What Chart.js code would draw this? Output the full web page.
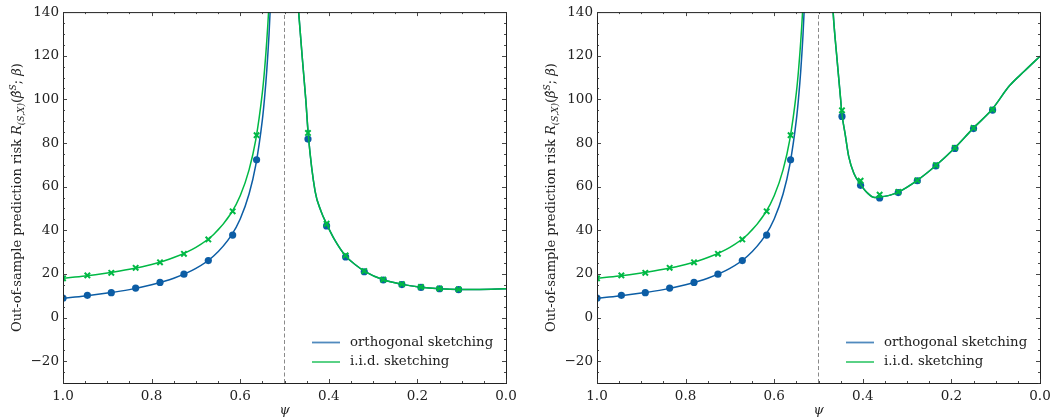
<!DOCTYPE html>
<html>
<head>
<meta charset="utf-8">
<title>Sketching prediction risk</title>
<style>
  body { margin: 0; background: #fff; }
  .panel { position: absolute; top: 0; height: 419px; }
</style>
</head>
<body>
<div class="panel" style="left:0;width:528px"><canvas id="chartA" width="528" height="419"></canvas></div>
<div class="panel" style="left:534px;width:523px"><canvas id="chartB" width="523" height="419"></canvas></div>

<script src="https://cdn.jsdelivr.net/npm/chart.js"></script>
<script>
// --- data ---
// marker positions (psi)
const psiMarkLeft  = [1.0, 0.945, 0.891, 0.836, 0.781, 0.727, 0.672, 0.617, 0.563];
const psiMarkRight = [0.447, 0.405, 0.362, 0.320, 0.277, 0.235, 0.192, 0.150, 0.107];

// left branch (psi > 0.5), same in both panels
const orthMarkLeft = [8.9, 10.2, 11.4, 13.5, 16.1, 19.9, 26.1, 37.8, 72.3];
const iidMarkLeft  = [18.0, 19.3, 20.5, 22.8, 25.3, 29.2, 35.8, 48.7, 83.6];

// right branch, panel A
const orthMarkA = [81.8, 42.0, 27.8, 21.0, 17.2, 15.1, 13.8, 13.2, 12.8];
const iidMarkA  = [84.6, 43.0, 28.5, 21.3, 17.4, 15.3, 14.0, 13.3, 12.9];
// right branch, panel B
const orthMarkB = [92.2, 60.6, 54.8, 57.3, 62.7, 69.5, 77.5, 86.6, 95.1];
const iidMarkB  = [95.0, 62.7, 56.3, 57.6, 62.9, 69.8, 77.8, 86.9, 95.3];

// theory curves, left branch
const psiCurveLeft  = [1.0, 0.95, 0.9, 0.85, 0.8, 0.75, 0.7, 0.66, 0.62, 0.6, 0.58, 0.565, 0.55, 0.545, 0.54, 0.535, 0.53];
const orthCurveLeft = [8.9, 9.9, 11.2, 12.8, 15.0, 18.0, 22.5, 28.2, 37.7, 45.2, 56.6, 69.7, 90.6, 100.7, 113.3, 129.5, 151];
const iidCurveLeft  = [18.0, 19.0, 20.4, 22.1, 24.3, 27.5, 32.2, 38.1, 48.0, 55.8, 67.7, 81.3, 103.1, 113.6, 126.8, 143.7, 166];

// theory curves, right branch (both sketches coincide)
const psiCurveA = [0.47, 0.46, 0.452, 0.446, 0.431, 0.418, 0.404, 0.385, 0.362, 0.34, 0.319, 0.277, 0.234, 0.192, 0.150, 0.107, 0.06, 0.0];
const riskCurveA = [145, 119.4, 100, 83, 58, 49, 42.5, 35, 28.2, 24.2, 21.2, 17.3, 15.2, 13.9, 13.2, 12.9, 12.9, 13.2];
const psiCurveB = [0.47, 0.467, 0.458, 0.45, 0.4475, 0.44, 0.432, 0.42, 0.406, 0.39, 0.373, 0.3635, 0.34, 0.32, 0.277, 0.235, 0.193, 0.151, 0.109, 0.069, 0.035, 0.0];
const riskCurveB = [152, 140, 118, 100, 94, 84.3, 74, 66, 61.3, 57.2, 55.0, 55.2, 56.0, 57.5, 62.9, 69.7, 77.6, 86.7, 95.2, 106.2, 113, 119.8];

const psiAsymptote = 0.5;
const xTicks = { min: 0, max: 1, step: 0.2, minor: 0.05 };
const yTicks = { min: -30, max: 140, step: 20, minor: 5 };

const seriesNames = ['orthogonal sketching', 'i.i.d. sketching'];
const BLUE = '#0C5DA5';
const GREEN = '#00B945';
const FONT = "'DejaVu Serif', serif";

const pts = (xs, ys) => xs.map((x, i) => ({ x: x, y: ys[i] }));

// y axis label with sub/superscripts: [text, style, size, shift]
const yTitleParts = [
  ['Out-of-sample prediction risk ', 'normal', 13, 0],
  ['R', 'italic', 13, 0],
  ['(S,X)', 'italic', 9, 3],
  ['(', 'normal', 13, 0],
  ['\u03B2\u0302', 'italic', 13, 0],
  ['S', 'italic', 9, -5],
  ['; ', 'normal', 13, 0],
  ['\u03B2', 'italic', 13, 0],
  [')', 'normal', 13, 0]
];

const decor = {
  id: 'decor',
  afterDraw(chart) {
    const { ctx, chartArea: a, scales: { x, y } } = chart;
    ctx.save();

    // frame
    ctx.strokeStyle = '#222';
    ctx.lineWidth = 1;
    ctx.strokeRect(a.left + 0.5, a.top + 0.5, a.right - a.left, a.bottom - a.top);

    // inward ticks on all sides
    ctx.lineWidth = 0.9;
    ctx.strokeStyle = '#333';
    ctx.beginPath();
    const nx = Math.round((xTicks.max - xTicks.min) / xTicks.minor);
    for (let i = 0; i <= nx; i++) {
      const v = xTicks.min + i * xTicks.minor;
      const len = (i % 4 === 0) ? 4 : 2;
      const px = Math.round(x.getPixelForValue(v)) + 0.5;
      ctx.moveTo(px, a.bottom); ctx.lineTo(px, a.bottom - len);
      ctx.moveTo(px, a.top); ctx.lineTo(px, a.top + len);
    }
    for (let v = yTicks.min; v <= yTicks.max; v += yTicks.minor) {
      const len = (v % yTicks.step === 0) ? 4 : 2;
      const py = Math.round(y.getPixelForValue(v)) + 0.5;
      ctx.moveTo(a.left, py); ctx.lineTo(a.left + len, py);
      ctx.moveTo(a.right, py); ctx.lineTo(a.right - len, py);
    }
    ctx.stroke();

    // legend, lower right inside the axes
    const rows = chart.data.datasets.filter(d => d.legendColor);
    ctx.textBaseline = 'middle';
    ctx.textAlign = 'left';
    ctx.font = '13.3px ' + FONT;
    rows.forEach((d, i) => {
      const yy = a.bottom - 40.5 + i * 19.5;
      ctx.strokeStyle = d.legendColor;
      ctx.lineWidth = 1.8;
      ctx.beginPath();
      ctx.moveTo(a.right - 194, yy);
      ctx.lineTo(a.right - 166, yy);
      ctx.stroke();
      ctx.fillStyle = '#222';
      ctx.fillText(d.label, a.right - 156, yy);
    });

    // rotated y title
    ctx.translate(16, (a.top + a.bottom) / 2);
    ctx.rotate(-Math.PI / 2);
    ctx.textBaseline = 'alphabetic';
    let total = 0;
    const widths = yTitleParts.map(p => {
      ctx.font = p[1] + ' ' + p[2] + 'px ' + FONT;
      const w = ctx.measureText(p[0]).width;
      total += w;
      return w;
    });
    let cx = -total / 2;
    yTitleParts.forEach((p, i) => {
      ctx.font = p[1] + ' ' + p[2] + 'px ' + FONT;
      ctx.fillText(p[0], cx, 4.5 + p[3]);
      cx += widths[i];
    });
    ctx.restore();
  }
};

function makeChart(id, markRight, orthRight, iidRight, psiCurveRight, riskCurveRight, padRight) {
  const lineBase = { showLine: true, pointRadius: 0, borderWidth: 1.5, cubicInterpolationMode: 'monotone', fill: false };
  const datasets = [
    { data: [{ x: psiAsymptote, y: yTicks.min }, { x: psiAsymptote, y: yTicks.max }], showLine: true,
      borderColor: '#8a8a8a', borderWidth: 1, borderDash: [4, 2.5], pointRadius: 0, order: 9 },
    Object.assign({ label: seriesNames[0], data: pts(psiCurveLeft, orthCurveLeft), borderColor: BLUE,
      legendColor: 'rgba(12,93,165,0.72)', order: 6 }, lineBase),
    Object.assign({ data: pts(psiCurveRight, riskCurveRight), borderColor: BLUE, order: 6 }, lineBase),
    { data: pts(psiMarkLeft.concat(markRight), orthMarkLeft.concat(orthRight)), showLine: false,
      pointStyle: 'circle', pointRadius: 3.6, pointBackgroundColor: BLUE, pointBorderWidth: 0, order: 5 },
    Object.assign({ label: seriesNames[1], data: pts(psiCurveLeft, iidCurveLeft), borderColor: GREEN,
      legendColor: 'rgba(0,185,69,0.72)', order: 4 }, lineBase),
    Object.assign({ data: pts(psiCurveRight, riskCurveRight), borderColor: GREEN, order: 4 }, lineBase),
    { data: pts(psiMarkLeft.concat(markRight), iidMarkLeft.concat(iidRight)), showLine: false,
      pointStyle: 'crossRot', pointRadius: 3.8, pointBorderColor: GREEN, pointBorderWidth: 2, order: 3 }
  ];

  return new Chart(document.getElementById(id), {
    type: 'scatter',
    data: { datasets: datasets },
    plugins: [decor],
    options: {
      responsive: false,
      animation: false,
      events: [],
      layout: { padding: { left: 20, right: padRight, top: 9, bottom: 0 } },
      plugins: { legend: { display: false }, tooltip: { enabled: false } },
      scales: {
        x: {
          type: 'linear', min: xTicks.min, max: xTicks.max, reverse: true,
          grid: { display: false, drawTicks: false }, border: { display: false },
          ticks: { stepSize: xTicks.step, padding: 5, color: '#222', font: { family: FONT, size: 13.5 },
                   callback: v => v.toFixed(1) },
          title: { display: true, text: '\u03C8', color: '#222', font: { family: FONT, size: 13, style: 'italic' },
                   padding: { top: 0, bottom: 1 } },
          afterFit: s => { s.height = 36; }
        },
        y: {
          min: yTicks.min, max: yTicks.max,
          grid: { display: false, drawTicks: false }, border: { display: false },
          ticks: { stepSize: yTicks.step, includeBounds: false, padding: 4, color: '#222',
                   font: { family: FONT, size: 13.5 },
                   callback: v => v < 0 ? '\u2212' + Math.abs(v) : String(v) },
          afterFit: s => { s.width = 43; }
        }
      }
    }
  });
}

makeChart('chartA', psiMarkRight, orthMarkA, iidMarkA, psiCurveA, riskCurveA, 22);
makeChart('chartB', psiMarkRight, orthMarkB, iidMarkB, psiCurveB, riskCurveB, 17);
</script>
</body>
</html>
